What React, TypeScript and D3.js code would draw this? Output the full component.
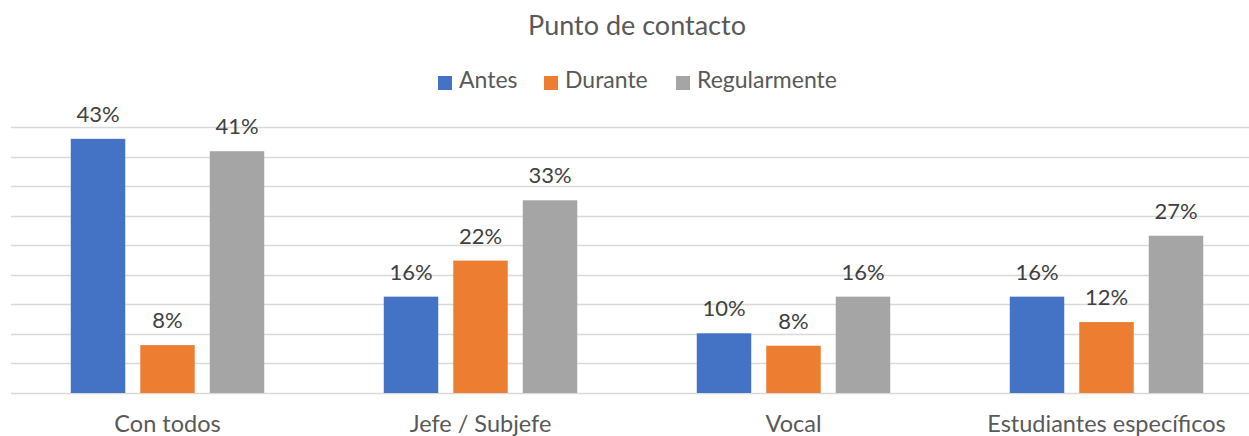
import React, { useRef, useEffect } from "react";
import * as d3 from "d3";

const categories = ["Con todos", "Jefe / Subjefe", "Vocal", "Estudiantes específicos"];
const seriesNames = ["Antes", "Durante", "Regularmente"];
const antes = [43.0, 16.3, 10.1, 16.3];
const durante = [8.1, 22.4, 8.0, 12.0];
const regularmente = [40.9, 32.6, 16.3, 26.6];
const yTicks = [0, 5, 10, 15, 20, 25, 30, 35, 40, 45];

const colors = ["#4472C4", "#ED7D31", "#A5A5A5"];
const textColor = "#595959";
const font = "Lato, 'Open Sans', sans-serif";

const App = () => {
  const ref = useRef<SVGSVGElement | null>(null);
  const w = 1249,
    h = 436;

  useEffect(() => {
    document.body.style.margin = "0";
    const svg = d3.select(ref.current);
    svg.selectAll("*").remove();

    const values = [antes, durante, regularmente];

    const x0 = d3.scaleBand().domain(categories).range([11, 1263]).padding(0);
    const x1 = d3
      .scaleBand()
      .domain(seriesNames)
      .range([0, x0.bandwidth()])
      .paddingInner(0.216)
      .paddingOuter(0.86);
    const y = d3.scaleLinear().domain([0, 45]).range([393, 127]);

    // gridlines
    svg
      .append("g")
      .selectAll("line")
      .data(yTicks)
      .join("line")
      .attr("x1", 11)
      .attr("x2", w)
      .attr("y1", (d) => Math.round(y(d)) + 0.5)
      .attr("y2", (d) => Math.round(y(d)) + 0.5)
      .attr("stroke", "#D9D9D9")
      .attr("stroke-width", 1.5);

    // bars + labels
    seriesNames.forEach((s, si) => {
      const g = svg.append("g");
      g.selectAll("rect")
        .data(values[si])
        .join("rect")
        .attr("x", (d, i) => x0(categories[i])! + x1(s)!)
        .attr("y", (d) => y(d))
        .attr("width", x1.bandwidth())
        .attr("height", (d) => y(0) - y(d))
        .attr("fill", colors[si]);
      g.selectAll("text")
        .data(values[si])
        .join("text")
        .attr("x", (d, i) => x0(categories[i])! + x1(s)! + x1.bandwidth() / 2)
        .attr("y", (d) => y(d) - 17)
        .attr("text-anchor", "middle")
        .attr("font-family", font)
        .attr("font-size", 22)
        .attr("fill", "#404040")
        .text((d) => `${Math.round(d)}%`);
    });

    // category axis labels
    svg
      .append("g")
      .selectAll("text")
      .data(categories)
      .join("text")
      .attr("x", (d) => x0(d)! + x0.bandwidth() / 2)
      .attr("y", 432)
      .attr("text-anchor", "middle")
      .attr("font-family", font)
      .attr("font-size", 23.5)
      .attr("fill", textColor)
      .text((d) => d);

    // title
    svg
      .append("text")
      .attr("x", 637)
      .attr("y", 35)
      .attr("text-anchor", "middle")
      .attr("font-family", font)
      .attr("font-size", 27)
      .attr("fill", textColor)
      .text("Punto de contacto");

    // legend
    const legendX = [438, 544, 676];
    const legend = svg
      .append("g")
      .selectAll("g")
      .data(seriesNames)
      .join("g")
      .attr("transform", (d, i) => `translate(${legendX[i]},0)`);
    legend
      .append("rect")
      .attr("x", 0)
      .attr("y", 76)
      .attr("width", 14)
      .attr("height", 14)
      .attr("fill", (d, i) => colors[i]);
    legend
      .append("text")
      .attr("x", 21)
      .attr("y", 88)
      .attr("font-family", font)
      .attr("font-size", 23)
      .attr("fill", textColor)
      .text((d) => d);
  }, []);

  return <svg ref={ref} width={w} height={h} style={{ display: "block" }}></svg>;
};

export default App;
